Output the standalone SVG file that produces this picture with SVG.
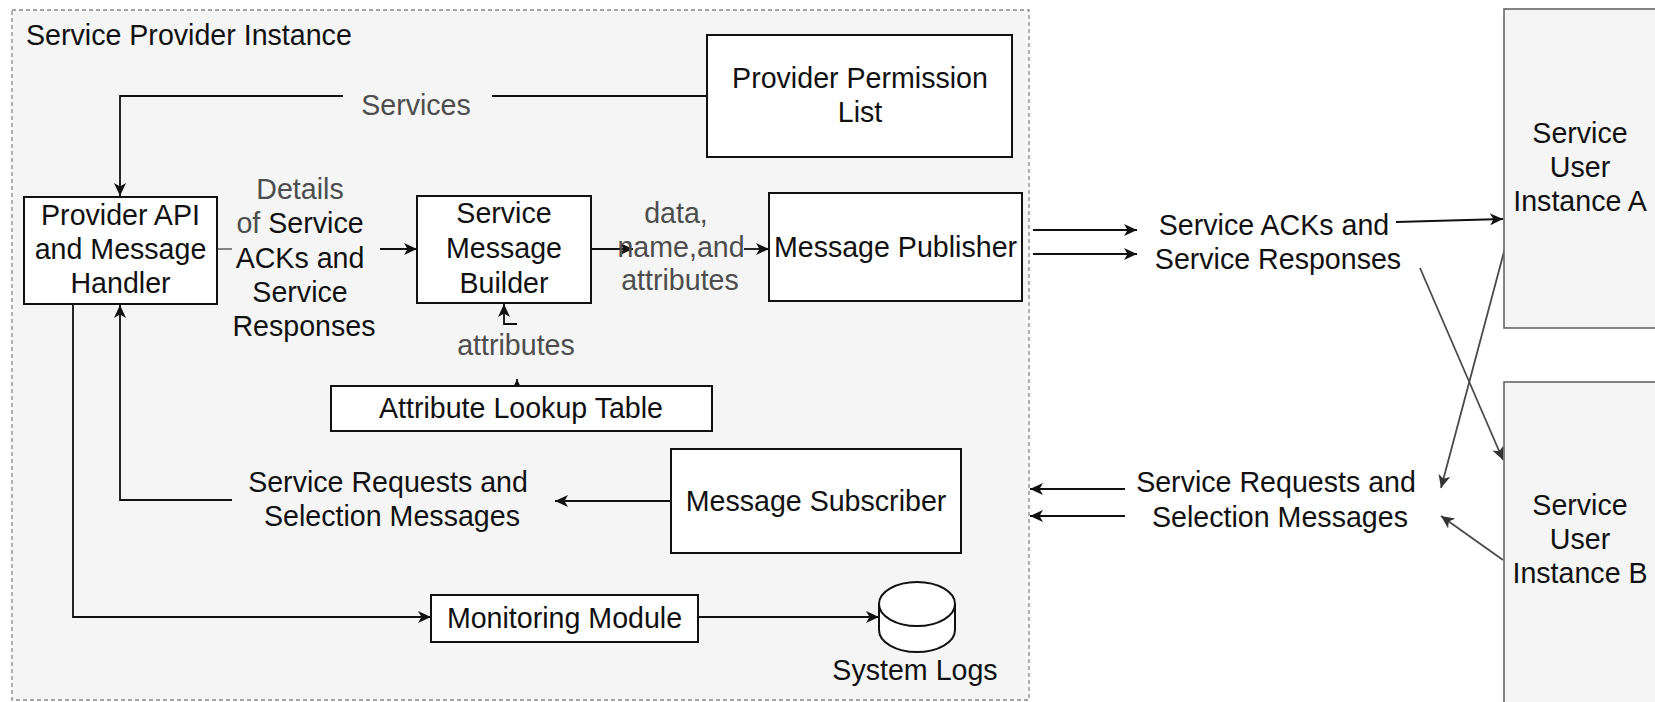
<svg xmlns="http://www.w3.org/2000/svg" width="1655" height="702" viewBox="0 0 1655 702">
  <style>
    text { font-family: "Liberation Sans", Arial, sans-serif; font-size: 28.6px; fill: #111; }
    .mid { text-anchor: middle; }
    .lbl { fill: #4d4d4d; }
    .box { fill: #ffffff; stroke: #111; stroke-width: 2; }
    .inst { fill: #f5f5f5; stroke: #666; stroke-width: 1.6; }
    .edge { fill: none; stroke: #111; stroke-width: 1.8; }
    .edge-g { fill: none; stroke: #4a4a4a; stroke-width: 1.8; }
    .stub { fill: none; stroke: #777; stroke-width: 1.8; }
  </style>
  <defs>
    <marker id="arrow" markerUnits="userSpaceOnUse" markerWidth="14" markerHeight="12" viewBox="0 0 14 12" refX="13" refY="6" orient="auto">
      <path d="M0 0 L13 6 L0 12 L3.5 6 Z" fill="#111"/>
    </marker>
    <marker id="arrow-g" markerUnits="userSpaceOnUse" markerWidth="14" markerHeight="12" viewBox="0 0 14 12" refX="13" refY="6" orient="auto">
      <path d="M0 0 L13 6 L0 12 L3.5 6 Z" fill="#333"/>
    </marker>
  </defs>

  <rect width="1655" height="702" fill="#ffffff"/>

  <!-- Provider container -->
  <g id="provider-instance">
    <rect x="12" y="10" width="1017" height="690" fill="#f5f5f5" stroke="#888" stroke-width="1.3" stroke-dasharray="4 3"/>
    <text x="26" y="45">Service Provider Instance</text>
  </g>

  <!-- Connectors -->
  <g id="connectors">
    <!-- Services -->
    <path class="edge" d="M707 96 H492"/>
    <path class="edge" d="M343 96 H120 V196" marker-end="url(#arrow)"/>
    <!-- handler to builder -->
    <path class="stub" d="M217 249 H232"/>
    <path class="edge" d="M380 249 H417" marker-end="url(#arrow)"/>
    <!-- builder to publisher -->
    <path class="edge" d="M591 249 H633" marker-end="url(#arrow)"/>
    <path class="edge" d="M744 249 H769" marker-end="url(#arrow)"/>
    <!-- lookup table to builder -->
    <path class="edge" d="M517 390 V379" marker-end="url(#arrow)"/>
    <path class="edge" stroke-width="1.3" d="M517 324 H504 V304" marker-end="url(#arrow)"/>
    <!-- handler to monitoring -->
    <path class="edge" d="M73 304 V617 H431" marker-end="url(#arrow)"/>
    <!-- requests to handler -->
    <path class="edge" d="M232 500 H120 V305" marker-end="url(#arrow)"/>
    <!-- subscriber to requests -->
    <path class="edge" d="M671 501 H555" marker-end="url(#arrow)"/>
    <!-- monitoring to logs -->
    <path class="edge" d="M698 617 H879" marker-end="url(#arrow)"/>
    <!-- publisher outputs -->
    <path class="edge" d="M1033 230 H1137" marker-end="url(#arrow)"/>
    <path class="edge" d="M1033 254 H1137" marker-end="url(#arrow)"/>
    <!-- responses to user instances -->
    <path class="edge" d="M1396 222 L1503 219" marker-end="url(#arrow)"/>
    <path class="edge-g" d="M1420 268 L1503 460" marker-end="url(#arrow-g)"/>
    <!-- user instances to requests -->
    <path class="edge-g" d="M1505 248 L1441 488" marker-end="url(#arrow-g)"/>
    <path class="edge-g" d="M1503 560 L1441 516" marker-end="url(#arrow-g)"/>
    <!-- requests into provider -->
    <path class="edge" d="M1125 489 H1030" marker-end="url(#arrow)"/>
    <path class="edge" d="M1125 516 H1030" marker-end="url(#arrow)"/>
  </g>

  <!-- Edge labels -->
  <g id="edge-labels">
    <text class="mid lbl" x="416" y="115">Services</text>
    <text class="mid" x="304">
      <tspan class="lbl" x="304" y="199">Details</tspan>
      <tspan x="304" y="233"><tspan class="lbl">of</tspan> Service</tspan>
      <tspan x="304" y="268">ACKs and</tspan>
      <tspan x="304" y="302">Service</tspan>
      <tspan x="304" y="336">Responses</tspan>
    </text>
    <text class="mid lbl" x="680">
      <tspan x="680" y="223">data,</tspan>
      <tspan x="685" y="257">name,and</tspan>
      <tspan x="680" y="290">attributes</tspan>
    </text>
    <text class="mid lbl" x="516" y="355">attributes</text>
    <text class="mid" x="392">
      <tspan x="392" y="492">Service Requests and</tspan>
      <tspan x="392" y="526">Selection Messages</tspan>
    </text>
    <text class="mid" x="1278">
      <tspan x="1278" y="235">Service ACKs and</tspan>
      <tspan x="1278" y="269">Service Responses</tspan>
    </text>
    <text class="mid" x="1280">
      <tspan x="1280" y="492">Service Requests and</tspan>
      <tspan x="1280" y="527">Selection Messages</tspan>
    </text>
  </g>

  <g id="provider-permission-list">
    <rect class="box" x="707" y="35" width="305" height="122"/>
    <text class="mid" x="860"><tspan x="860" y="88">Provider Permission</tspan><tspan x="860" y="122">List</tspan></text>
  </g>

  <g id="provider-api">
    <rect class="box" x="24" y="197" width="193" height="107"/>
    <text class="mid" x="120.5"><tspan x="120.5" y="225">Provider API</tspan><tspan x="120.5" y="259">and Message</tspan><tspan x="120.5" y="293">Handler</tspan></text>
  </g>

  <g id="service-message-builder">
    <rect class="box" x="417" y="196" width="174" height="107"/>
    <text class="mid" x="504"><tspan x="504" y="223">Service</tspan><tspan x="504" y="258">Message</tspan><tspan x="504" y="293">Builder</tspan></text>
  </g>

  <g id="message-publisher">
    <rect class="box" x="769" y="193" width="253" height="108"/>
    <text class="mid" x="895.5" y="257">Message Publisher</text>
  </g>

  <g id="attribute-lookup-table">
    <rect class="box" x="331" y="386" width="381" height="45"/>
    <text class="mid" x="521" y="418">Attribute Lookup Table</text>
  </g>

  <g id="message-subscriber">
    <rect class="box" x="671" y="449" width="290" height="104"/>
    <text class="mid" x="816" y="511">Message Subscriber</text>
  </g>

  <g id="monitoring-module">
    <rect class="box" x="431" y="595" width="267" height="47"/>
    <text class="mid" x="564.5" y="628">Monitoring Module</text>
  </g>

  <g id="system-logs">
    <path d="M879 604 A38 22 0 0 1 955 604 V630 A38 22 0 0 1 879 630 Z" fill="#ffffff" stroke="#111" stroke-width="2"/>
    <path d="M879 604 A38 22 0 0 0 955 604" fill="none" stroke="#111" stroke-width="2"/>
    <text class="mid" x="915" y="680">System Logs</text>
  </g>

  <g id="service-user-a">
    <rect class="inst" x="1504" y="9" width="160" height="319"/>
    <text class="mid" x="1580"><tspan x="1580" y="143">Service</tspan><tspan x="1580" y="177">User</tspan><tspan x="1580" y="211">Instance A</tspan></text>
  </g>

  <g id="service-user-b">
    <rect class="inst" x="1504" y="382" width="160" height="330"/>
    <text class="mid" x="1580"><tspan x="1580" y="515">Service</tspan><tspan x="1580" y="549">User</tspan><tspan x="1580" y="583">Instance B</tspan></text>
  </g>
</svg>
